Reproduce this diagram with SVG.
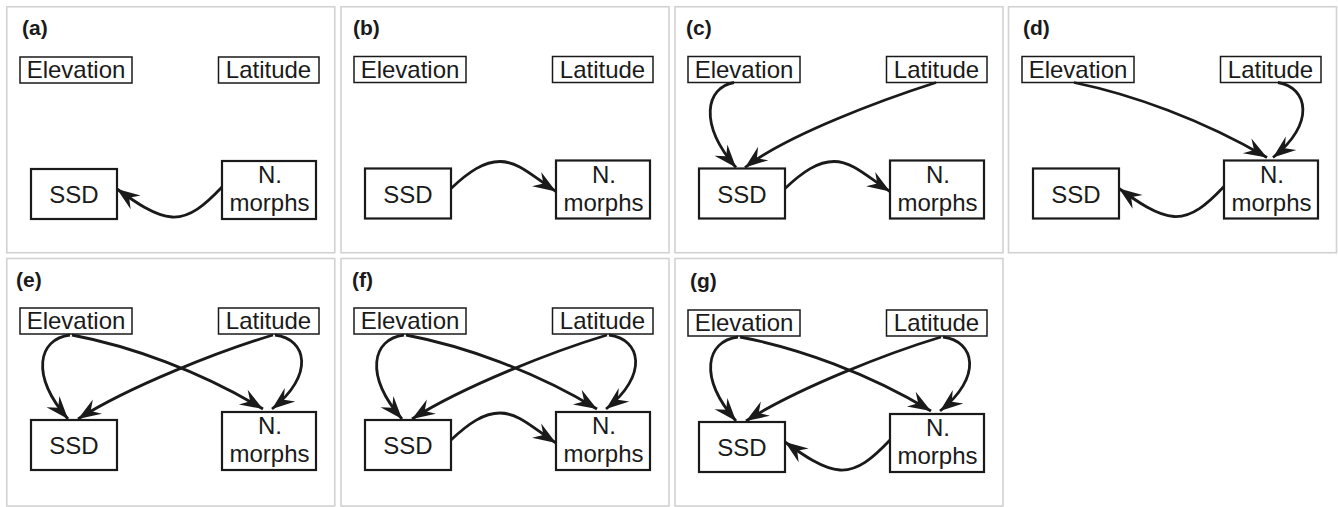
<svg xmlns="http://www.w3.org/2000/svg" width="1338" height="507" viewBox="0 0 1338 507">
<style>
  .frame { fill: none; stroke: #d2d2d2; stroke-width: 1.6; }
  .lbl { font-family: "Liberation Sans", Arial, sans-serif; font-weight: bold; font-size: 21px; fill: #1a1a1a; }
  .t { font-family: "Liberation Sans", Arial, sans-serif; font-size: 24px; fill: #1a1a1a; text-anchor: middle; }
  .thin { fill: #fff; stroke: #1a1a1a; stroke-width: 1.5; }
  .thick { fill: #fff; stroke: #1a1a1a; stroke-width: 2.2; }
  .c { fill: none; stroke: #1a1a1a; stroke-width: 2.8; marker-end: url(#ah); }
</style>
<defs>
  <marker id="ah" markerUnits="userSpaceOnUse" viewBox="-24 -10 25 20" refX="0" refY="0" markerWidth="25" markerHeight="20" orient="auto">
    <path d="M0,0 L-23,-8.5 L-15,0 L-23,8.5 Z" fill="#1a1a1a"/>
  </marker>
  <g id="elev"><rect class="thin" x="20" y="57" width="112" height="26"/><text class="t" x="76" y="78">Elevation</text></g>
  <g id="lat"><rect class="thin" x="218.5" y="57" width="100.5" height="26"/><text class="t" x="268.5" y="78">Latitude</text></g>
  <g id="ssd"><rect class="thick" x="31" y="169" width="86" height="50"/><text class="t" x="74" y="203">SSD</text></g>
  <g id="nm"><rect class="thick" x="222" y="161" width="94" height="58"/><text class="t" x="270" y="183">N.</text><text class="t" x="269.5" y="211">morphs</text></g>
</defs>

<!-- (a) -->
<g id="panel-a">
  <rect class="frame" x="6.75" y="6.75" width="328" height="246"/>
  <text class="lbl" x="22" y="35">(a)</text>
  <g transform="translate(0,0)">
    <g id="a-elevation"><use href="#elev"/></g>
    <g id="a-latitude"><use href="#lat"/></g>
    <g id="a-ssd"><use href="#ssd"/></g>
    <g id="a-nmorphs"><use href="#nm"/></g>
    <g id="a-connectors">
      <path class="c" d="M222,187 C205,205 190,218 172,217 C155,216 135,202 117,189"/>
    </g>
  </g>
</g>

<!-- (b) -->
<g id="panel-b">
  <rect class="frame" x="341" y="6.75" width="328" height="246"/>
  <text class="lbl" x="353" y="35">(b)</text>
  <g transform="translate(334,-0.5)">
    <g id="b-elevation"><use href="#elev"/></g>
    <g id="b-latitude"><use href="#lat"/></g>
    <g id="b-ssd"><use href="#ssd"/></g>
    <g id="b-nmorphs"><use href="#nm"/></g>
    <g id="b-connectors">
      <path class="c" d="M117,189 C135,172 150,162 166,162 C185,162 200,178 222,192"/>
    </g>
  </g>
</g>

<!-- (c) -->
<g id="panel-c">
  <rect class="frame" x="675" y="6.75" width="328" height="246"/>
  <text class="lbl" x="686" y="35">(c)</text>
  <g transform="translate(668,-0.5)">
    <g id="c-elevation"><use href="#elev"/></g>
    <g id="c-latitude"><use href="#lat"/></g>
    <g id="c-ssd"><use href="#ssd"/></g>
    <g id="c-nmorphs"><use href="#nm"/></g>
    <g id="c-connectors">
      <path class="c" d="M66,83 C38,88 30,124 68,168"/>
      <path class="c" d="M268,83 C215,100 120,135 77,168"/>
      <path class="c" d="M117,189 C135,172 150,162 166,162 C185,162 200,178 222,192"/>
    </g>
  </g>
</g>

<!-- (d) -->
<g id="panel-d">
  <rect class="frame" x="1008.5" y="6.75" width="328" height="246"/>
  <text class="lbl" x="1023" y="35">(d)</text>
  <g transform="translate(1002,-0.5)">
    <g id="d-elevation"><use href="#elev"/></g>
    <g id="d-latitude"><use href="#lat"/></g>
    <g id="d-ssd"><use href="#ssd"/></g>
    <g id="d-nmorphs"><use href="#nm"/></g>
    <g id="d-connectors">
      <path class="c" d="M72,83 C130,95 200,120 265,158"/>
      <path class="c" d="M276,83 C306,88 314,124 271,158"/>
      <path class="c" d="M222,187 C205,205 190,218 172,217 C155,216 135,202 117,189"/>
    </g>
  </g>
</g>

<!-- (e) -->
<g id="panel-e">
  <rect class="frame" x="6.75" y="258.5" width="328" height="247.5"/>
  <text class="lbl" x="16" y="287">(e)</text>
  <g transform="translate(0,251)">
    <g id="e-elevation"><use href="#elev"/></g>
    <g id="e-latitude"><use href="#lat"/></g>
    <g id="e-ssd"><use href="#ssd"/></g>
    <g id="e-nmorphs"><use href="#nm"/></g>
    <g id="e-connectors">
      <path class="c" d="M70,84 C38,88 30,124 68,168"/>
      <path class="c" d="M72,84 C130,95 200,120 263,158"/>
      <path class="c" d="M273,84 C220,100 130,135 78,168"/>
      <path class="c" d="M275,84 C307,88 315,124 272,158"/>
    </g>
  </g>
</g>

<!-- (f) -->
<g id="panel-f">
  <rect class="frame" x="341" y="258.5" width="328" height="247.5"/>
  <text class="lbl" x="352" y="287">(f)</text>
  <g transform="translate(334,251)">
    <g id="f-elevation"><use href="#elev"/></g>
    <g id="f-latitude"><use href="#lat"/></g>
    <g id="f-ssd"><use href="#ssd"/></g>
    <g id="f-nmorphs"><use href="#nm"/></g>
    <g id="f-connectors">
      <path class="c" d="M70,84 C38,88 30,124 68,168"/>
      <path class="c" d="M72,84 C130,95 200,120 263,158"/>
      <path class="c" d="M273,84 C220,100 130,135 78,168"/>
      <path class="c" d="M275,84 C307,88 315,124 272,158"/>
      <path class="c" d="M117,189 C135,172 150,162 166,162 C185,162 200,178 222,192"/>
    </g>
  </g>
</g>

<!-- (g) -->
<g id="panel-g">
  <rect class="frame" x="675" y="258.5" width="328" height="247.5"/>
  <text class="lbl" x="690" y="288">(g)</text>
  <g transform="translate(668,253)">
    <g id="g-elevation"><use href="#elev"/></g>
    <g id="g-latitude"><use href="#lat"/></g>
    <g id="g-ssd"><use href="#ssd"/></g>
    <g id="g-nmorphs"><use href="#nm"/></g>
    <g id="g-connectors">
      <path class="c" d="M70,84 C38,88 30,124 68,168"/>
      <path class="c" d="M72,84 C130,95 200,120 263,158"/>
      <path class="c" d="M273,84 C220,100 130,135 78,168"/>
      <path class="c" d="M275,84 C307,88 315,124 272,158"/>
      <path class="c" d="M222,187 C205,205 190,218 172,217 C155,216 135,202 117,189"/>
    </g>
  </g>
</g>
</svg>
